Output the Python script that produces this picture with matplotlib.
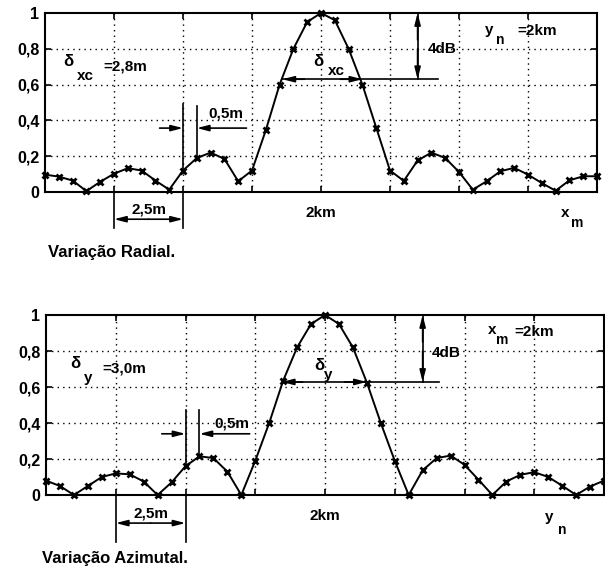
import numpy as np
import matplotlib
matplotlib.use("Agg")
import matplotlib.pyplot as plt

plt.rcParams['font.family'] = ['Liberation Sans Narrow', 'Liberation Sans', 'DejaVu Sans']
plt.rcParams['font.weight'] = 'bold'

# positions (m, relative to 2 km), 0.5 m sampling
pos = np.arange(-10, 10.01, 0.5)

radial = [0.097, 0.086, 0.064, 0.005, 0.057, 0.102, 0.133, 0.12, 0.064, 0.013,
          0.12, 0.19, 0.22, 0.185, 0.06, 0.12, 0.345, 0.60, 0.80, 0.95,
          1.0, 0.96, 0.80, 0.60, 0.36, 0.12, 0.062, 0.176, 0.22, 0.19,
          0.112, 0.013, 0.06, 0.116, 0.135, 0.097, 0.05, 0.007, 0.065, 0.088, 0.088]

azimutal = [0.08, 0.05, 0.0, 0.05, 0.10, 0.12, 0.115, 0.075, 0.0, 0.07,
            0.16, 0.215, 0.205, 0.13, 0.0, 0.19, 0.40, 0.635, 0.82, 0.95,
            1.0, 0.95, 0.82, 0.625, 0.40, 0.19, 0.0, 0.137, 0.205, 0.219,
            0.168, 0.085, 0.0, 0.075, 0.112, 0.127, 0.10, 0.052, 0.0, 0.047, 0.08]

yticks = [0, 0.2, 0.4, 0.6, 0.8, 1]
ytick_labels = ['0', '0,2', '0,4', '0,6', '0,8', '1']
xgrid = [-7.5, -5, -2.5, 0, 2.5, 5, 7.5]
xtick_labels = ['', '', '', '2km', '', '', '']

W, H = 605, 569
fig = plt.figure(figsize=(W / 100, H / 100), dpi=100)


def axes_px(l, r, t, b):
    return fig.add_axes([l / W, 1 - b / H, (r - l) / W, (b - t) / H])


def setup(ax, data):
    ax.set_xlim(-10, 10)
    ax.set_ylim(0, 1)
    ax.set_yticks(yticks)
    ax.set_yticklabels(ytick_labels, fontsize=11.5, fontweight='bold')
    ax.set_xticks(xgrid)
    ax.set_xticklabels(xtick_labels, fontsize=11, fontweight='bold')
    ax.tick_params(direction='in', length=4, width=1.2, top=True, right=True, pad=4)
    ax.tick_params(axis='x', pad=10)
    for s in ax.spines.values():
        s.set_linewidth(1.5)
    for v in xgrid:
        ax.axvline(v, color='black', lw=1.0, ls=(0, (1, 3)), zorder=0)
    for v in [0.2, 0.4, 0.6, 0.8]:
        ax.axhline(v, color='black', lw=1.0, ls=(0, (1, 3)), zorder=0)
    ax.plot(pos, data, color='black', lw=1.4, marker='x', ms=5, mew=2.0, clip_on=False, zorder=3)


def arrow(ax, x0, y0, x1, y1):
    ax.annotate('', xy=(x1, y1), xytext=(x0, y0), annotation_clip=False,
                arrowprops=dict(arrowstyle='-|>,head_length=0.7,head_width=0.18',
                                color='black', lw=1.2, shrinkA=0, shrinkB=0))


def line(ax, xs, ys):
    ax.plot(xs, ys, color='black', lw=1.2, clip_on=False)


def txt(ax, x, y, s, size=11, ha='center'):
    ax.text(x, y, s, ha=ha, va='center', fontsize=size, fontweight='bold', clip_on=False)


# ---------- top panel ----------
ax1 = axes_px(45, 597, 13, 192)
setup(ax1, radial)
txt(ax1, -9.15, 0.73, 'δ', 12)
txt(ax1, -8.55, 0.65, 'xc', 11)
txt(ax1, -7.1, 0.70, '=2,8m', 11)
# 4dB
line(ax1, [3.5, 3.5], [1.0, 0.63])
arrow(ax1, 3.5, 0.85, 3.5, 1.0)
arrow(ax1, 3.5, 0.80, 3.5, 0.63)
txt(ax1, 4.4, 0.80, '4dB', 11)
line(ax1, [-1.4, 4.25], [0.63, 0.63])
arrow(ax1, -0.6, 0.63, -1.4, 0.63)
arrow(ax1, 0.7, 0.63, 1.5, 0.63)
txt(ax1, -0.1, 0.73, 'δ', 12)
txt(ax1, 0.55, 0.675, 'xc', 11)
txt(ax1, 6.1, 0.905, 'y', 11)
txt(ax1, 6.5, 0.85, 'n', 10)
txt(ax1, 7.85, 0.90, '=2km', 11)
# 0,5m
line(ax1, [-5, -5], [0.49, 0.12])
line(ax1, [-4.5, -4.5], [0.48, 0.19])
arrow(ax1, -5.85, 0.357, -5.0, 0.357)
arrow(ax1, -2.7, 0.357, -4.5, 0.357)
txt(ax1, -3.45, 0.44, '0,5m', 11)
# 2,5m
line(ax1, [-7.5, -7.5], [0, -0.2])
line(ax1, [-5, -5], [0, -0.2])
arrow(ax1, -6.25, -0.152, -7.5, -0.152)
arrow(ax1, -6.25, -0.152, -5.0, -0.152)
txt(ax1, -6.25, -0.10, '2,5m', 11)
txt(ax1, 8.85, -0.115, 'x', 11)
txt(ax1, 9.3, -0.175, 'm', 10)
fig.text(48 / W, 1 - 252 / H, 'Variação Radial.', ha='left', va='center', fontsize=12, fontweight='bold')

# ---------- bottom panel ----------
ax2 = axes_px(46, 604, 315, 495)
setup(ax2, azimutal)
txt(ax2, -8.95, 0.73, 'δ', 12)
txt(ax2, -8.5, 0.65, 'y', 11)
txt(ax2, -7.2, 0.705, '=3,0m', 11)
line(ax2, [3.5, 3.5], [1.0, 0.628])
arrow(ax2, 3.5, 0.85, 3.5, 1.0)
arrow(ax2, 3.5, 0.80, 3.5, 0.628)
txt(ax2, 4.35, 0.79, '4dB', 11)
line(ax2, [-1.55, 4.1], [0.628, 0.628])
arrow(ax2, -0.8, 0.628, -1.55, 0.628)
arrow(ax2, 0.7, 0.628, 1.5, 0.628)
txt(ax2, -0.2, 0.72, 'δ', 12)
txt(ax2, 0.12, 0.665, 'y', 11)
txt(ax2, 6.0, 0.915, 'x', 11)
txt(ax2, 6.35, 0.86, 'm', 10)
txt(ax2, 7.5, 0.905, '=2km', 11)
line(ax2, [-5, -5], [0.47, 0.16])
line(ax2, [-4.5, -4.5], [0.47, 0.215])
arrow(ax2, -5.85, 0.34, -5.0, 0.34)
arrow(ax2, -2.7, 0.34, -4.5, 0.34)
txt(ax2, -3.35, 0.40, '0,5m', 11)
line(ax2, [-7.5, -7.5], [0, -0.26])
line(ax2, [-5, -5], [0, -0.26])
arrow(ax2, -6.25, -0.156, -7.5, -0.156)
arrow(ax2, -6.25, -0.156, -5.0, -0.156)
txt(ax2, -6.25, -0.10, '2,5m', 11)
txt(ax2, 8.05, -0.12, 'y', 11)
txt(ax2, 8.5, -0.195, 'n', 10)
fig.text(42 / W, 1 - 558 / H, 'Variação Azimutal.', ha='left', va='center', fontsize=12, fontweight='bold')

fig.savefig('out.png', dpi=100, facecolor='white')
